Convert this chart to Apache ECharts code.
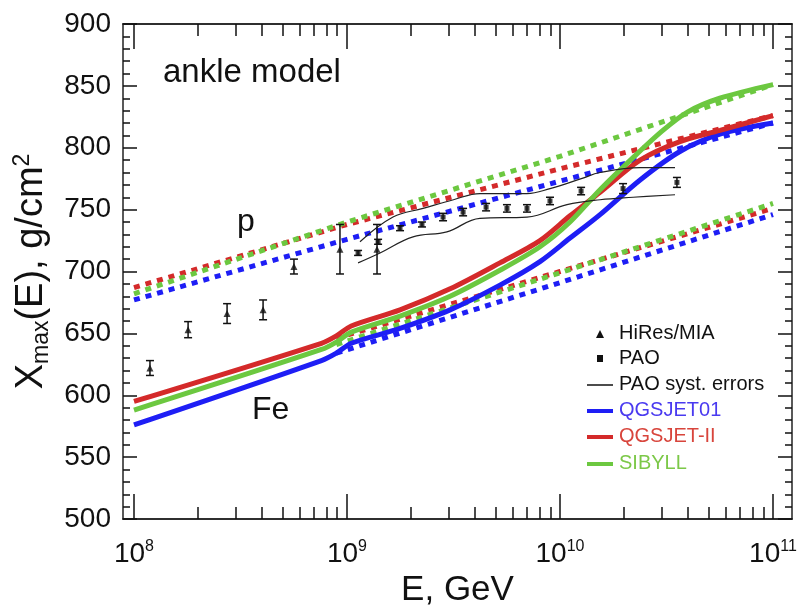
<!DOCTYPE html>
<html><head><meta charset="utf-8">
<script src="https://cdn.jsdelivr.net/npm/echarts@6/dist/echarts.min.js"></script>
<style>html,body{margin:0;padding:0;background:#fff}#c{width:800px;height:606px}</style>
</head><body><div id="c"></div>
<script>
// ---------- data (x = log10(E / GeV), y = Xmax in g/cm^2) ----------
const majorDecades = [8, 9, 10, 11];
const minorMultipliers = [2, 3, 4, 5, 6, 7, 8, 9];
const yTicks = [500, 550, 600, 650, 700, 750, 800, 850, 900];

// proton lines (dotted)
const pQGSJET01 = [[8.0, 677], [9.0, 726], [10.0, 773], [11.0, 820]];
const pQGSJETII = [[8.0, 687], [9.0, 738], [10.0, 783], [11.0, 826]];
const pSIBYLL   = [[8.0, 682], [9.0, 740], [10.0, 793], [11.0, 851]];
// iron lines (dotted)
const feQGSJET01 = [[8.95, 634], [10.0, 691], [11.0, 746]];
const feQGSJETII = [[8.95, 646], [10.0, 700], [11.0, 751]];
const feSIBYLL   = [[8.95, 641], [10.0, 699], [11.0, 755]];
// ankle model (solid)
const ankQGSJET01 = [[8.0, 576], [8.88, 628], [8.95, 634], [9.02, 642], [9.249, 654], [9.484, 669], [9.718, 689], [9.906, 708], [10.047, 727], [10.188, 746], [10.376, 774], [10.563, 797], [10.751, 811], [11.0, 820]];
const ankQGSJETII = [[8.0, 595], [8.88, 642], [8.95, 648], [9.02, 656], [9.249, 669], [9.484, 686], [9.718, 707], [9.906, 725], [10.047, 745], [10.188, 764], [10.376, 790], [10.563, 805], [10.751, 814], [11.0, 826]];
const ankSIBYLL   = [[8.0, 588], [8.88, 637], [8.95, 643], [9.02, 651], [9.249, 664], [9.484, 680], [9.718, 701], [9.906, 720], [10.047, 740], [10.188, 766], [10.343, 792], [10.483, 814], [10.6, 829], [10.75, 840], [11.0, 851]];

// measurements: [lgE, Xmax, error]
const hiresMIA = [[8.075, 622, 6], [8.254, 653, 6.5], [8.437, 666, 8], [8.606, 669, 8], [8.751, 704, 6], [8.967, 718, 20], [9.141, 718, 20]];
const pao = [[9.052, 715, 2], [9.146, 724, 2], [9.249, 735, 2], [9.352, 738, 2], [9.451, 744, 3], [9.545, 748, 3], [9.653, 752, 3], [9.751, 751, 3], [9.845, 751, 3], [9.953, 757, 3], [10.099, 765, 3], [10.296, 767, 4], [10.549, 772, 4]];
const paoSystUp = [[9.061, 724], [9.216, 744], [9.357, 751], [9.5, 758], [9.624, 763], [9.845, 763], [9.953, 767], [10.1, 775], [10.188, 780], [10.376, 784], [10.54, 784]];
const paoSystLow = [[9.052, 707], [9.155, 715], [9.31, 728], [9.469, 732], [9.624, 743], [9.845, 744], [10.033, 754], [10.188, 758], [10.343, 760], [10.54, 762]];

// ---------- styling ----------
const FONT = 'Liberation Sans, Arial, sans-serif';
const BLUE = '#1e1ef5', RED = '#d42a2a', GREEN = '#6cc840';
const XMIN = 7.9484, XMAX = 11.0892;

const minorTicks = [];
majorDecades.slice(0, -1).forEach(d => minorMultipliers.forEach(m => minorTicks.push(d + Math.log10(m))));

function xAx(pos, ticks, len, labels) {
  return {
    type: 'value', position: pos, min: XMIN, max: XMAX,
    axisLine: { show: true, onZero: false, lineStyle: { color: '#222', width: 1.5 } },
    axisTick: { show: true, inside: true, length: len, customValues: ticks, lineStyle: { color: '#111', width: 1.5 } },
    axisLabel: labels ? {
      show: true, customValues: majorDecades, margin: 20, fontFamily: FONT,
      formatter: v => '{b|10}{s|' + Math.round(v) + '}',
      rich: { b: { fontSize: 28, fontFamily: FONT, color: '#111', lineHeight: 30 },
              s: { fontSize: 16, fontFamily: FONT, color: '#111', verticalAlign: 'top', lineHeight: 30 } }
    } : { show: false },
    splitLine: { show: false }
  };
}
function yAx(pos, labels) {
  return {
    type: 'value', position: pos, min: yTicks[0], max: yTicks[yTicks.length - 1], interval: 50,
    axisLine: { show: true, onZero: false, lineStyle: { color: '#222', width: 1.5 } },
    axisTick: { show: true, inside: true, length: 14, lineStyle: { color: '#111', width: 1.5 } },
    minorTick: { show: true, splitNumber: 5, length: 7, lineStyle: { color: '#111', width: 1.5 } },
    axisLabel: labels ? { show: true, margin: 12, fontSize: 28, fontFamily: FONT, color: '#111' } : { show: false },
    splitLine: { show: false },
    name: labels ? '{a|X}{s|max}{a|(E), g/cm}{p|2}' : '',
    nameLocation: 'middle', nameGap: 70, nameRotate: 90,
    nameTextStyle: { rich: {
      a: { fontSize: 38, fontFamily: FONT, color: '#111', lineHeight: 42 },
      s: { fontSize: 23, fontFamily: FONT, color: '#111', verticalAlign: 'bottom', lineHeight: 42 },
      p: { fontSize: 23, fontFamily: FONT, color: '#111', verticalAlign: 'top', lineHeight: 42 } } }
  };
}

const xAxes = [xAx('bottom', majorDecades, 25, true), xAx('bottom', minorTicks, 12, false), xAx('top', majorDecades, 25, false), xAx('top', minorTicks, 12, false)];
xAxes[0].name = 'E, GeV';
xAxes[0].nameLocation = 'middle';
xAxes[0].nameGap = 49;
xAxes[0].nameTextStyle = { fontSize: 35, fontFamily: FONT, color: '#111' };

function dotted(name, data, color) {
  return { name, type: 'line', data, showSymbol: false, silent: true,
    lineStyle: { color, width: 5, type: [6, 6], cap: 'butt' }, z: 2 };
}
function solid(name, data, color) {
  return { name, type: 'line', data, showSymbol: false, smooth: 0.3, silent: true,
    lineStyle: { color, width: 5 }, z: 3 };
}
function errBars(name, data) {
  return { name, type: 'custom', z: 5, silent: true,
    data: data.map(d => [d[0], d[1] - d[2], d[1] + d[2]]),
    renderItem: (params, api) => {
      const lo = api.coord([api.value(0), api.value(1)]);
      const hi = api.coord([api.value(0), api.value(2)]);
      const w = 4;
      const st = { stroke: '#111', lineWidth: 1.5 };
      return { type: 'group', children: [
        { type: 'line', shape: { x1: lo[0], y1: lo[1], x2: hi[0], y2: hi[1] }, style: st },
        { type: 'line', shape: { x1: lo[0] - w, y1: lo[1], x2: lo[0] + w, y2: lo[1] }, style: st },
        { type: 'line', shape: { x1: hi[0] - w, y1: hi[1], x2: hi[0] + w, y2: hi[1] }, style: st }
      ] };
    } };
}

const option = {
  animation: false,
  backgroundColor: '#fff',
  grid: { left: 123, right: 8, top: 24, bottom: 87, containLabel: false, outerBoundsMode: 'none' },
  xAxis: xAxes,
  yAxis: [yAx('left', true), yAx('right', false)],
  series: [
    dotted('p QGSJET01', pQGSJET01, BLUE), dotted('p QGSJET-II', pQGSJETII, RED), dotted('p SIBYLL', pSIBYLL, GREEN),
    dotted('Fe QGSJET01', feQGSJET01, BLUE), dotted('Fe QGSJET-II', feQGSJETII, RED), dotted('Fe SIBYLL', feSIBYLL, GREEN),
    solid('QGSJET01', ankQGSJET01, BLUE), solid('QGSJET-II', ankQGSJETII, RED), solid('SIBYLL', ankSIBYLL, GREEN),
    { name: 'PAO syst. errors', type: 'line', data: paoSystUp, showSymbol: false, smooth: 0.4, silent: true, lineStyle: { color: '#222', width: 1.2 }, z: 4 },
    { name: 'PAO syst. errors low', type: 'line', data: paoSystLow, showSymbol: false, smooth: 0.4, silent: true, lineStyle: { color: '#222', width: 1.2 }, z: 4 },
    errBars('HiRes err', hiresMIA), errBars('PAO err', pao),
    { name: 'HiRes/MIA', type: 'scatter', data: hiresMIA.map(d => [d[0], d[1]]), symbol: 'triangle', symbolSize: 7, itemStyle: { color: '#111' }, z: 6, silent: true },
    { name: 'PAO', type: 'scatter', data: pao.map(d => [d[0], d[1]]), symbol: 'rect', symbolSize: 5, itemStyle: { color: '#111' }, z: 6, silent: true }
  ],
  graphic: [
    { type: 'text', left: 163, top: 56, style: { text: 'ankle model', font: '33px ' + FONT, fill: '#111' } },
    { type: 'text', left: 237, top: 206, style: { text: 'p', font: '32px ' + FONT, fill: '#111' } },
    { type: 'text', left: 252, top: 394, style: { text: 'Fe', font: '32px ' + FONT, fill: '#111' } },
    // legend
    { type: 'polygon', shape: { points: [[600, 330], [604, 338], [596, 338]] }, style: { fill: '#111' } },
    { type: 'text', left: 619, top: 323, style: { text: 'HiRes/MIA', font: '20px ' + FONT, fill: '#111' } },
    { type: 'rect', shape: { x: 597, y: 355, width: 6, height: 7 }, style: { fill: '#111' } },
    { type: 'text', left: 619, top: 348, style: { text: 'PAO', font: '20px ' + FONT, fill: '#111' } },
    { type: 'line', shape: { x1: 587, y1: 385, x2: 613, y2: 385 }, style: { stroke: '#111', lineWidth: 1.5 } },
    { type: 'text', left: 619, top: 374, style: { text: 'PAO syst. errors', font: '20px ' + FONT, fill: '#111' } },
    { type: 'line', shape: { x1: 587, y1: 411, x2: 613, y2: 411 }, style: { stroke: BLUE, lineWidth: 4 } },
    { type: 'text', left: 619, top: 400, style: { text: 'QGSJET01', font: '20px ' + FONT, fill: '#4a3af0' } },
    { type: 'line', shape: { x1: 587, y1: 437, x2: 613, y2: 437 }, style: { stroke: RED, lineWidth: 4 } },
    { type: 'text', left: 619, top: 426, style: { text: 'QGSJET-II', font: '20px ' + FONT, fill: '#d8453c' } },
    { type: 'line', shape: { x1: 587, y1: 464, x2: 613, y2: 464 }, style: { stroke: GREEN, lineWidth: 4 } },
    { type: 'text', left: 619, top: 453, style: { text: 'SIBYLL', font: '20px ' + FONT, fill: '#7cc848' } }
  ]
};
const chart = echarts.init(document.getElementById('c'), null, { renderer: 'canvas' });
chart.setOption(option);
</script></body></html>
